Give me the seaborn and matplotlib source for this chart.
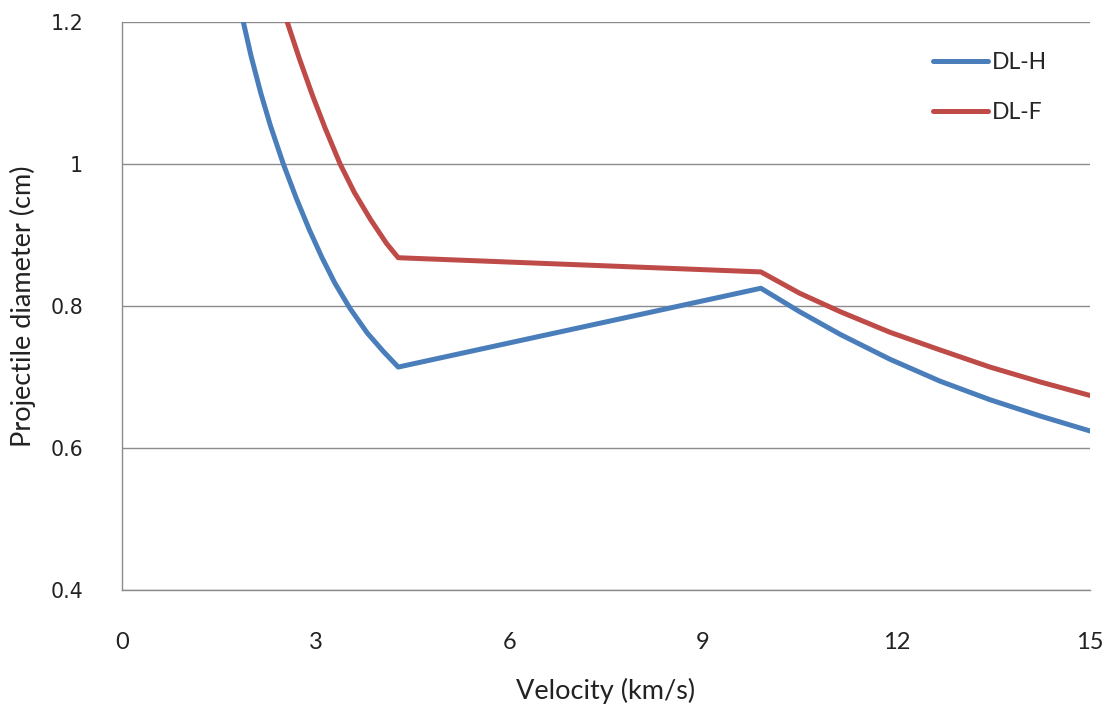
import matplotlib
matplotlib.use("Agg")
import matplotlib.pyplot as plt
import seaborn as sns
import pandas as pd

# Data
vel_h = [1.88, 2.00, 2.15, 2.30, 2.50, 2.70, 2.90, 3.10, 3.30, 3.53, 3.80, 4.05, 4.28,
         9.90, 10.50, 11.13, 11.90, 12.68, 13.45, 14.23, 15.0]
dia_h = [1.200, 1.152, 1.100, 1.054, 1.000, 0.952, 0.908, 0.868, 0.832, 0.797, 0.762, 0.736, 0.714,
         0.825, 0.792, 0.760, 0.725, 0.694, 0.668, 0.645, 0.624]
vel_f = [2.56, 2.75, 2.95, 3.15, 3.38, 3.60, 3.85, 4.10, 4.28,
         9.90, 10.50, 11.13, 11.90, 12.68, 13.45, 14.23, 15.0]
dia_f = [1.200, 1.148, 1.097, 1.050, 1.000, 0.960, 0.922, 0.888, 0.868,
         0.848, 0.818, 0.792, 0.763, 0.738, 0.714, 0.693, 0.674]
series_names = ["DL-H", "DL-F"]
x_ticks = [0, 3, 6, 9, 12, 15]
y_ticks = [0.4, 0.6, 0.8, 1.0, 1.2]
y_tick_labels = ["0.4", "0.6", "0.8", "1", "1.2"]

df = pd.concat([
    pd.DataFrame({"Velocity": vel_h, "Diameter": dia_h, "Series": series_names[0]}),
    pd.DataFrame({"Velocity": vel_f, "Diameter": dia_f, "Series": series_names[1]}),
], ignore_index=True)

sns.set_theme(style="white")
plt.rcParams["font.family"] = ["Lato", "DejaVu Sans"]

fig = plt.figure(figsize=(11.12, 7.11), dpi=100)
ax = fig.add_axes([122/1112, 1 - 590/711, (1090-122)/1112, (590-22)/711])

palette = {"DL-H": "#4A7EBB", "DL-F": "#BE4B48"}
sns.lineplot(data=df, x="Velocity", y="Diameter", hue="Series", palette=palette,
             linewidth=3.6, sort=False, ax=ax, estimator=None)
for ln in ax.get_lines():
    ln.set_solid_joinstyle("round")
    ln.set_solid_capstyle("round")

ax.set_xlim(0, 15)
ax.set_ylim(0.4, 1.2)
ax.set_xticks(x_ticks)
ax.set_xticklabels([str(t) for t in x_ticks], fontsize=17, color="#222222")
ax.set_yticks(y_ticks)
ax.set_yticklabels(y_tick_labels, fontsize=14.8, color="#222222", family="DejaVu Sans")
ax.tick_params(axis="x", length=0, pad=30)
ax.tick_params(axis="y", length=0, pad=28)

ax.grid(axis="y", color="#8c8c8c", linewidth=1.0)
ax.set_axisbelow(True)
for s in ["top", "right"]:
    ax.spines[s].set_visible(False)
for s in ["left", "bottom"]:
    ax.spines[s].set_color("#8c8c8c")
    ax.spines[s].set_linewidth(1.0)

ax.set_xlabel("Velocity (km/s)", fontsize=19.5, color="#222222", labelpad=18)
ax.set_ylabel("Projectile diameter (cm)", fontsize=19.5, color="#222222", labelpad=10)

leg = ax.legend(loc="upper left", bbox_to_anchor=((935-122)/968 - 0.012, 1 - 21/568),
                frameon=False, fontsize=16.5, handlelength=2.4, handletextpad=0.2,
                labelspacing=1.25, borderaxespad=0)
for line in leg.get_lines():
    line.set_linewidth(3.6)

fig.savefig("out.png", dpi=100)
